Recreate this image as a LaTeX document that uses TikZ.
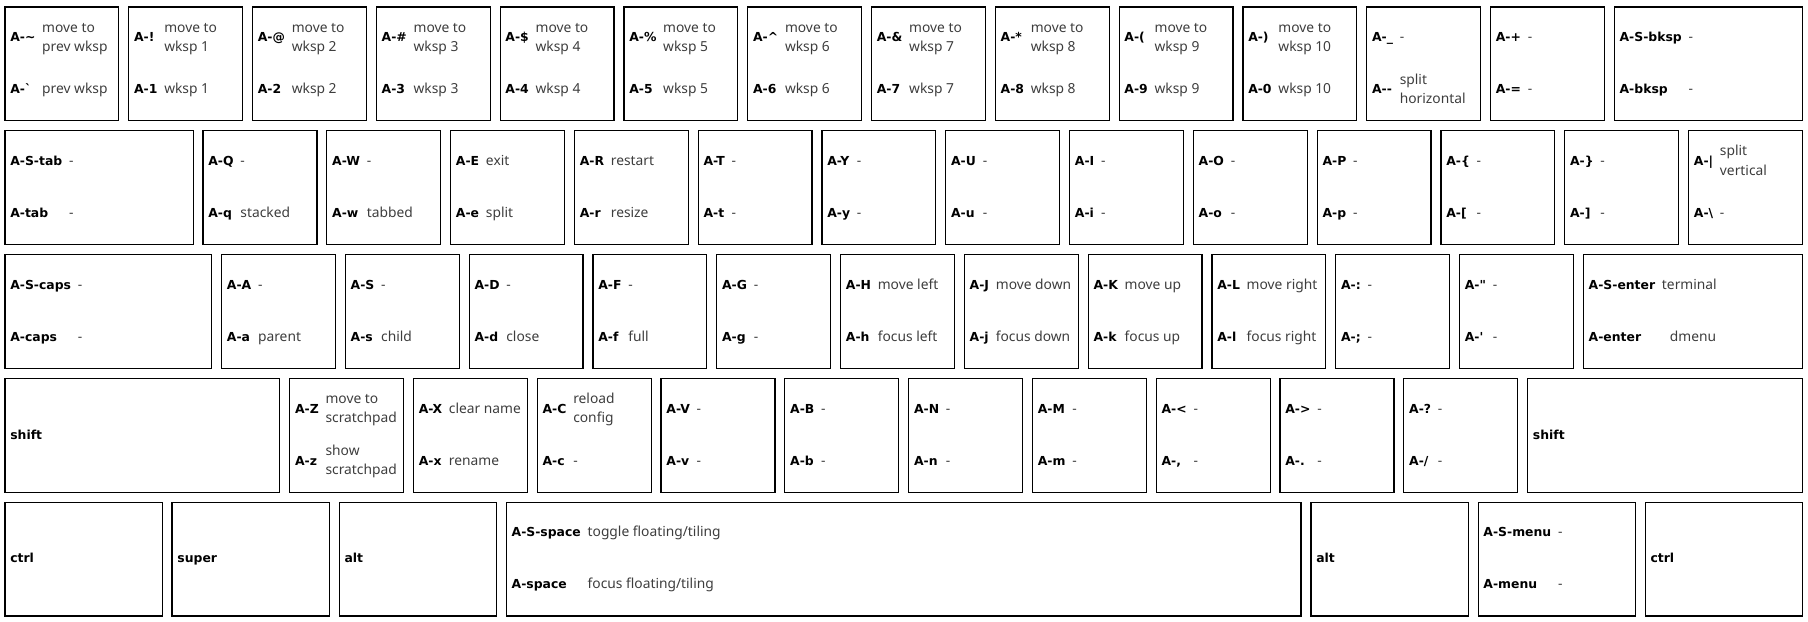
\documentclass[tikz,border=0pt]{standalone}
\usepackage{fontspec}
\usetikzlibrary{calc}

\newfontfamily\keyfont{DejaVu Sans}[Ligatures=TeXOff]
\newfontfamily\descfont{Noto Sans}[Ligatures=TeXOff]
\definecolor{descgray}{HTML}{3D3D3D}

% key with two bindings: name, x, row, width, upper key, upper text, lower key, lower text
\newcommand{\kbkey}[8]{%
  \node[keybox, minimum width={#4*61.9pt-4.95pt}] (#1) at (#2+#4/2,-#3-0.5) {};
  \node[keylab] (#1-a) at (#2+0.08,-#3-0.29) {#5};
  \node[keylab] (#1-b) at (#2+0.08,-#3-0.71) {#7};
  \path let \p1=(#1-a.east), \p2=(#1-b.east) in
    node[keydesc] (#1-c) at ({max(\x1,\x2)+3pt},\y1) {\begin{tabular}{@{}l@{}}#6\end{tabular}}
    node[keydesc] (#1-d) at ({max(\x1,\x2)+3pt},\y2) {\begin{tabular}{@{}l@{}}#8\end{tabular}};
}
% plain modifier key: name, x, row, width, label
\newcommand{\kbmod}[5]{%
  \node[keybox, minimum width={#4*61.9pt-4.95pt}] (#1) at (#2+#4/2,-#3-0.5) {};
  \node[keylab] (#1-a) at (#2+0.08,-#3-0.5) {#5};
}

\begin{document}
\begin{tikzpicture}[
x=61.9pt, y=61.9pt,
keybox/.style={
rectangle,
draw=black,
line width=0.6pt,
inner sep=0pt,
minimum height=56.95pt
},
keylab/.style={
anchor=west,
inner sep=0pt,
text height=3.9pt,
text depth=0pt,
font=\keyfont\bfseries\fontsize{6.2pt}{7.5pt}\selectfont
},
keydesc/.style={
anchor=west,
inner sep=0pt,
text=descgray,
font=\descfont\fontsize{6.9pt}{9.75pt}\selectfont
}
]
\useasboundingbox (0,0.016) rectangle (14.605,-5.008);

% number row
\kbkey{grave}{0}{0}{1}{A-\textasciitilde}{move to\\prev wksp}{A-`}{prev wksp}
\kbkey{one}{1}{0}{1}{A-!}{move to\\wksp 1}{A-1}{wksp 1}
\kbkey{two}{2}{0}{1}{A-@}{move to\\wksp 2}{A-2}{wksp 2}
\kbkey{three}{3}{0}{1}{A-\#}{move to\\wksp 3}{A-3}{wksp 3}
\kbkey{four}{4}{0}{1}{A-\$}{move to\\wksp 4}{A-4}{wksp 4}
\kbkey{five}{5}{0}{1}{A-\%}{move to\\wksp 5}{A-5}{wksp 5}
\kbkey{six}{6}{0}{1}{A-\textasciicircum}{move to\\wksp 6}{A-6}{wksp 6}
\kbkey{seven}{7}{0}{1}{A-\&}{move to\\wksp 7}{A-7}{wksp 7}
\kbkey{eight}{8}{0}{1}{A-*}{move to\\wksp 8}{A-8}{wksp 8}
\kbkey{nine}{9}{0}{1}{A-(}{move to\\wksp 9}{A-9}{wksp 9}
\kbkey{zero}{10}{0}{1}{A-)}{move to\\wksp 10}{A-0}{wksp 10}
\kbkey{minus}{11}{0}{1}{A-\_}{-}{A--}{split\\horizontal}
\kbkey{equal}{12}{0}{1}{A-+}{-}{A-=}{-}
\kbkey{bksp}{13}{0}{1.6}{A-S-bksp}{-}{A-bksp}{-}

% top letter row
\kbkey{tab}{0}{1}{1.6}{A-S-tab}{-}{A-tab}{-}
\kbkey{q}{1.6}{1}{1}{A-Q}{-}{A-q}{stacked}
\kbkey{w}{2.6}{1}{1}{A-W}{-}{A-w}{tabbed}
\kbkey{e}{3.6}{1}{1}{A-E}{exit}{A-e}{split}
\kbkey{r}{4.6}{1}{1}{A-R}{restart}{A-r}{resize}
\kbkey{t}{5.6}{1}{1}{A-T}{-}{A-t}{-}
\kbkey{y}{6.6}{1}{1}{A-Y}{-}{A-y}{-}
\kbkey{u}{7.6}{1}{1}{A-U}{-}{A-u}{-}
\kbkey{i}{8.6}{1}{1}{A-I}{-}{A-i}{-}
\kbkey{o}{9.6}{1}{1}{A-O}{-}{A-o}{-}
\kbkey{p}{10.6}{1}{1}{A-P}{-}{A-p}{-}
\kbkey{lbrack}{11.6}{1}{1}{A-\{}{-}{A-[}{-}
\kbkey{rbrack}{12.6}{1}{1}{A-\}}{-}{A-]}{-}
\kbkey{bslash}{13.6}{1}{1}{A-|}{split\\vertical}{A-\textbackslash}{-}

% home row
\kbkey{caps}{0}{2}{1.75}{A-S-caps}{-}{A-caps}{-}
\kbkey{a}{1.75}{2}{1}{A-A}{-}{A-a}{parent}
\kbkey{s}{2.75}{2}{1}{A-S}{-}{A-s}{child}
\kbkey{d}{3.75}{2}{1}{A-D}{-}{A-d}{close}
\kbkey{f}{4.75}{2}{1}{A-F}{-}{A-f}{full}
\kbkey{g}{5.75}{2}{1}{A-G}{-}{A-g}{-}
\kbkey{h}{6.75}{2}{1}{A-H}{move left}{A-h}{focus left}
\kbkey{j}{7.75}{2}{1}{A-J}{move down}{A-j}{focus down}
\kbkey{k}{8.75}{2}{1}{A-K}{move up}{A-k}{focus up}
\kbkey{l}{9.75}{2}{1}{A-L}{move right}{A-l}{focus right}
\kbkey{semi}{10.75}{2}{1}{A-:}{-}{A-;}{-}
\kbkey{quote}{11.75}{2}{1}{A-"}{-}{A-'}{-}
\kbkey{enter}{12.75}{2}{1.85}{A-S-enter}{terminal}{A-enter}{\hspace*{4pt}dmenu}

% bottom letter row
\kbmod{lshift}{0}{3}{2.3}{shift}
\kbkey{z}{2.3}{3}{1}{A-Z}{move to\\scratchpad}{A-z}{show\\scratchpad}
\kbkey{x}{3.3}{3}{1}{A-X}{clear name}{A-x}{rename}
\kbkey{c}{4.3}{3}{1}{A-C}{reload\\config}{A-c}{-}
\kbkey{v}{5.3}{3}{1}{A-V}{-}{A-v}{-}
\kbkey{b}{6.3}{3}{1}{A-B}{-}{A-b}{-}
\kbkey{n}{7.3}{3}{1}{A-N}{-}{A-n}{-}
\kbkey{m}{8.3}{3}{1}{A-M}{-}{A-m}{-}
\kbkey{comma}{9.3}{3}{1}{A-<}{-}{A-,}{-}
\kbkey{period}{10.3}{3}{1}{A->}{-}{A-.}{-}
\kbkey{slash}{11.3}{3}{1}{A-?}{-}{A-/}{-}
\kbmod{rshift}{12.3}{3}{2.3}{shift}

% space row
\kbmod{lctrl}{0}{4}{1.35}{ctrl}
\kbmod{super}{1.35}{4}{1.35}{super}
\kbmod{lalt}{2.7}{4}{1.35}{alt}
\kbkey{space}{4.05}{4}{6.5}{A-S-space}{toggle floating/tiling}{A-space}{focus floating/tiling}
\kbmod{ralt}{10.55}{4}{1.35}{alt}
\kbkey{menu}{11.9}{4}{1.35}{A-S-menu}{-}{A-menu}{-}
\kbmod{rctrl}{13.25}{4}{1.35}{ctrl}

\end{tikzpicture}
\end{document}
